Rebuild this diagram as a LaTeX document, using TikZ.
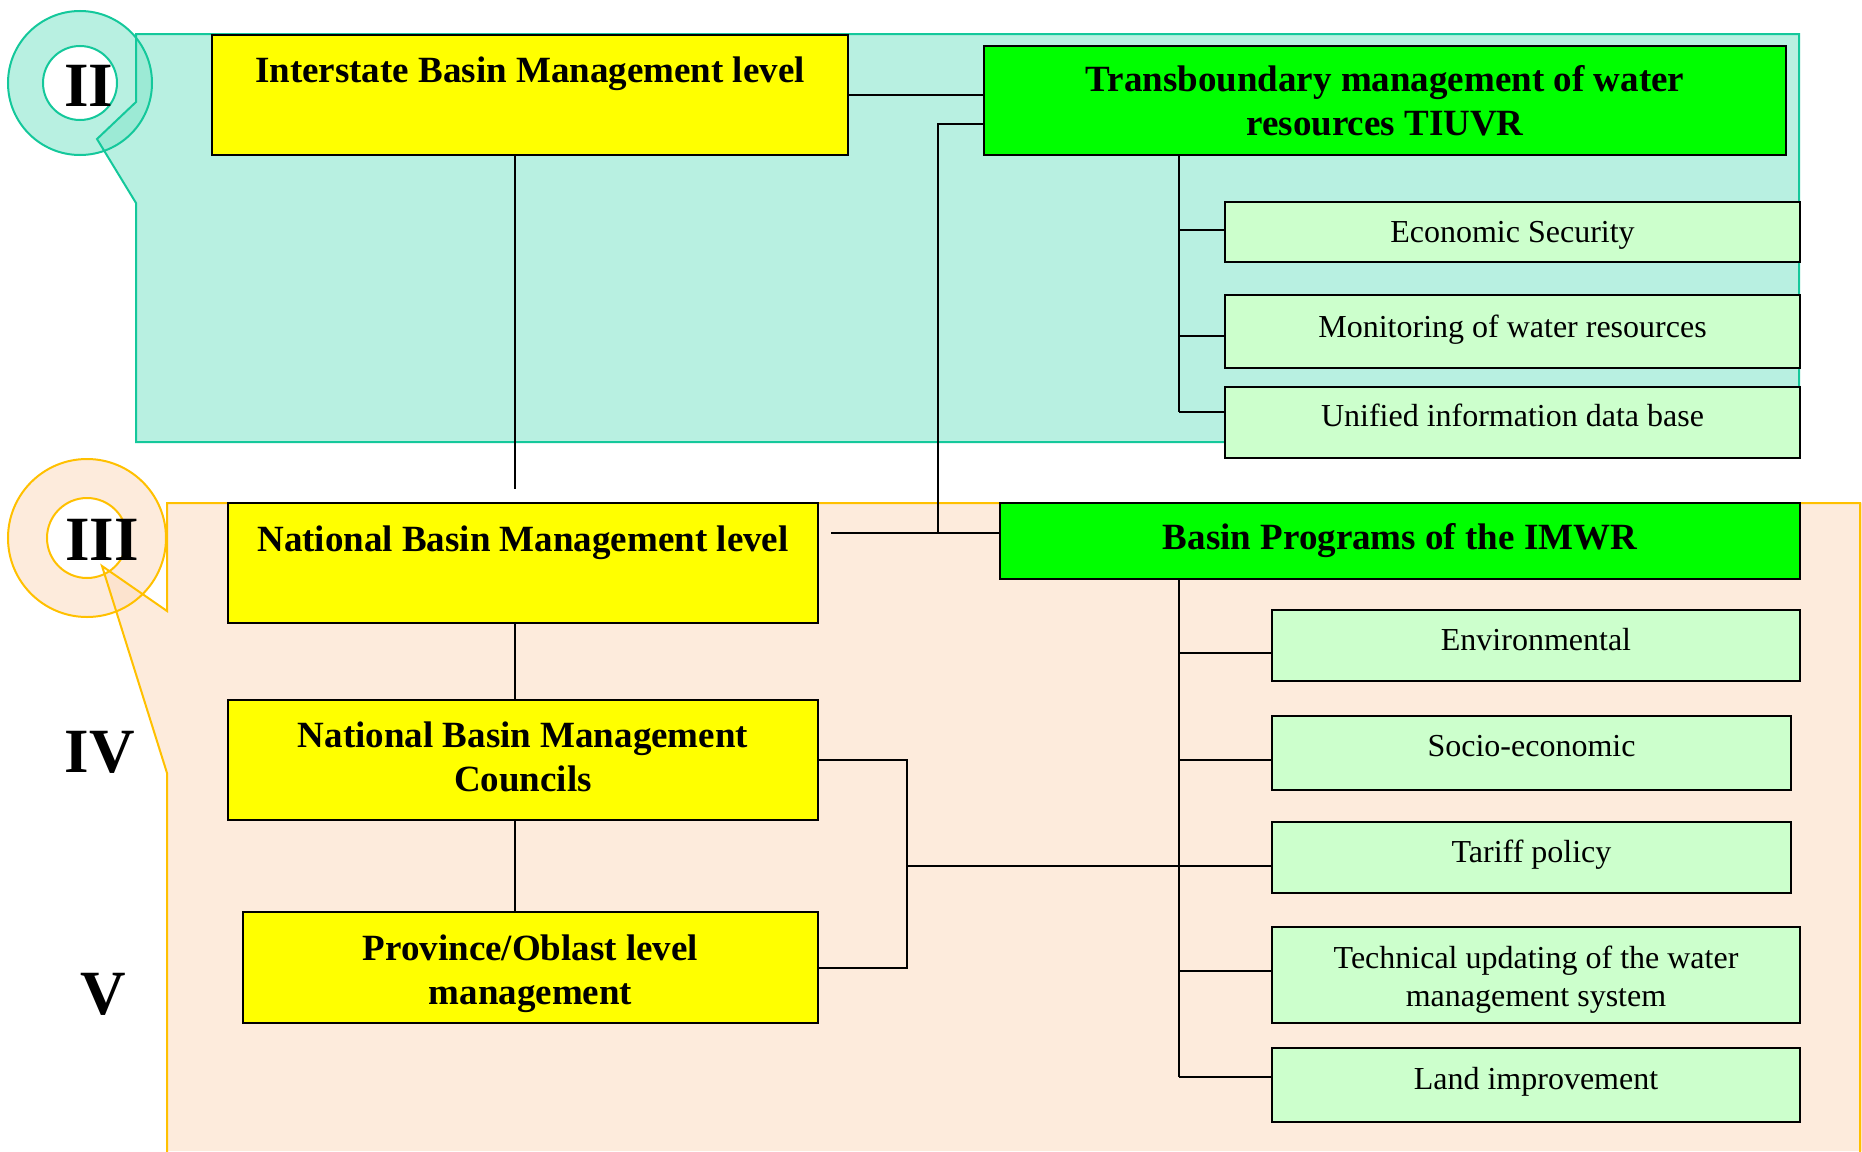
\documentclass[tikz,border=0pt]{standalone}
\usepackage{fontspec}
\setmainfont{Liberation Serif}
\definecolor{tealline}{RGB}{20,200,155}
\definecolor{tealfill}{RGB}{138,230,205}
\definecolor{orgline}{RGB}{255,192,0}
\definecolor{orgfill}{RGB}{252,223,197}
\definecolor{ylw}{RGB}{255,255,0}
\definecolor{grn}{RGB}{0,255,0}
\definecolor{lgrn}{RGB}{204,255,204}
\begin{document}
\begin{tikzpicture}[x=1pt,y=-1pt,
  box/.style={draw=black, line width=2pt, anchor=north west, inner sep=0pt, align=center},
  ybox/.style={box, fill=ylw, font=\bfseries\fontsize{37}{44}\selectfont},
  gbox/.style={box, fill=grn, font=\bfseries\fontsize{37}{44}\selectfont},
  lbox/.style={box, fill=lgrn, font=\fontsize{32}{38}\selectfont},
  conn/.style={line width=2pt, black},
  roman/.style={font=\bfseries\fontsize{63}{70}\selectfont, anchor=base, inner sep=0pt}]
\useasboundingbox (0,0) rectangle (1862,1151);
\fill[white] (0,0) rectangle (1862,1151);

% teal callout (level II)
\path[fill=tealfill, fill opacity=0.6] (136,34) -- (1799,34) -- (1799,442) -- (136,442) -- (136,203) -- (97,139) -- (136,102) -- cycle;
\path[fill=tealfill, fill opacity=0.6] (80,83) circle[radius=72];
\fill[white] (80,83) circle[radius=37];
\draw[tealline, line width=2pt] (136,34) -- (1799,34) -- (1799,442) -- (136,442) -- (136,203) -- (97,139) -- (136,102) -- cycle;
\draw[tealline, line width=2pt] (80,83) circle[radius=72];
\draw[tealline, line width=2pt] (80,83) circle[radius=37];

% orange callout (level III)
\path[fill=orgfill, fill opacity=0.6] (167,503) -- (1862,503) -- (1862,1151) -- (167,1151) -- (167,773) -- (102,566) -- (167,611) -- cycle;
\path[fill=orgfill, fill opacity=0.6] (87,538) circle[radius=79];
\fill[white] (87,538) circle[radius=40];
\draw[orgline, line width=2pt] (167,1155) -- (167,773) -- (102,566) -- (167,611) -- (167,503) -- (1860,503) -- (1860,1155);
\draw[orgline, line width=2pt] (87,538) circle[radius=79];
\draw[orgline, line width=2pt] (87,538) circle[radius=40];

% roman numerals
\node[roman] (rII) at (89,106) {II};
\node[roman] (rIII) at (102,560) {III};
\node[roman] (rIV) at (100,772) {IV};
\node[roman] (rV) at (103,1014) {V};

% boxes
\node[ybox, minimum width=636pt, minimum height=120pt, text height=47pt, text depth=73pt] (ibm) at (211,34) {Interstate Basin Management level};
\node[gbox, minimum width=802pt, minimum height=109pt] (tb) at (983,45) {Transboundary management of water\\resources TIUVR};
\node[lbox, minimum width=575pt, minimum height=60pt, text height=22pt, text depth=2pt] (es) at (1224,201) {Economic Security};
\node[lbox, minimum width=575pt, minimum height=73pt, text height=22pt, text depth=11pt] (mw) at (1224,294) {Monitoring of water resources};
\node[lbox, minimum width=575pt, minimum height=71pt, text height=22pt, text depth=14pt] (ui) at (1224,386) {Unified information data base};

\node[ybox, minimum width=590pt, minimum height=120pt, text height=48pt, text depth=72pt] (nbm) at (227,502) {National Basin Management level};
\node[gbox, minimum width=800pt, minimum height=76pt] (imwr) at (999,502) {Basin Programs of the IMWR};
\node[ybox, minimum width=590pt, minimum height=120pt] (nbc) at (227,699) {National Basin Management\\Councils\rule[-7pt]{0pt}{7pt}};
\node[ybox, minimum width=575pt, minimum height=111pt] (pol) at (242,911) {\rule{0pt}{38pt}Province/Oblast level\\management};

\node[lbox, minimum width=528pt, minimum height=71pt, text height=22pt, text depth=12pt] (env) at (1271,609) {Environmental};
\node[lbox, minimum width=519pt, minimum height=74pt, text height=22pt, text depth=16pt] (soc) at (1271,715) {Socio-economic};
\node[lbox, minimum width=519pt, minimum height=71pt, text height=22pt, text depth=13pt] (tar) at (1271,821) {Tariff policy};
\node[lbox, minimum width=528pt, minimum height=96pt] (tech) at (1271,926) {\rule{0pt}{32pt}Technical updating of the water\\management system};
\node[lbox, minimum width=528pt, minimum height=74pt, text height=22pt, text depth=14pt] (land) at (1271,1047) {Land improvement};

% junction coordinates
\coordinate (t0) at (938,124);
\coordinate (t1) at (938,533);
\coordinate (t2) at (831,533);
\coordinate (b1) at (1179,230);
\coordinate (b2) at (1179,336);
\coordinate (b3) at (1179,412);
\coordinate (c1) at (1179,653);
\coordinate (c2) at (1179,760);
\coordinate (c3) at (1179,866);
\coordinate (c4) at (1179,971);
\coordinate (c5) at (1179,1077);
\coordinate (jx) at (907,866);

% connectors
\draw[conn] (ibm.east) -- (ibm.east -| tb.west);
\draw[conn] (t0 -| tb.west) -- (t0) -- (t1);
\draw[conn] (t2) -- (t2 -| imwr.west);
\draw[conn] ([xshift=-15pt]ibm.south) -- ++(0,333);
\draw[conn] ([xshift=-8pt]nbm.south) -- ([xshift=-8pt]nbc.north);
\draw[conn] ([xshift=-8pt]nbc.south) -- ([xshift=-8pt]nbc.south |- pol.north);
\draw[conn] (nbc.east) -- (nbc.east -| jx) -- (jx |- pol.east) -- (pol.east);
\draw[conn] (jx) -- (jx -| tar.west);

\draw[conn] (tb.south -| b1) -- (b3);
\draw[conn] (b1) -- (b1 -| es.west);
\draw[conn] (b2) -- (b2 -| mw.west);
\draw[conn] (b3) -- (b3 -| ui.west);

\draw[conn] (imwr.south -| c1) -- (c5);
\draw[conn] (c1) -- (c1 -| env.west);
\draw[conn] (c2) -- (c2 -| soc.west);
\draw[conn] (c3) -- (c3 -| tar.west);
\draw[conn] (c4) -- (c4 -| tech.west);
\draw[conn] (c5) -- (c5 -| land.west);
\end{tikzpicture}
\end{document}
